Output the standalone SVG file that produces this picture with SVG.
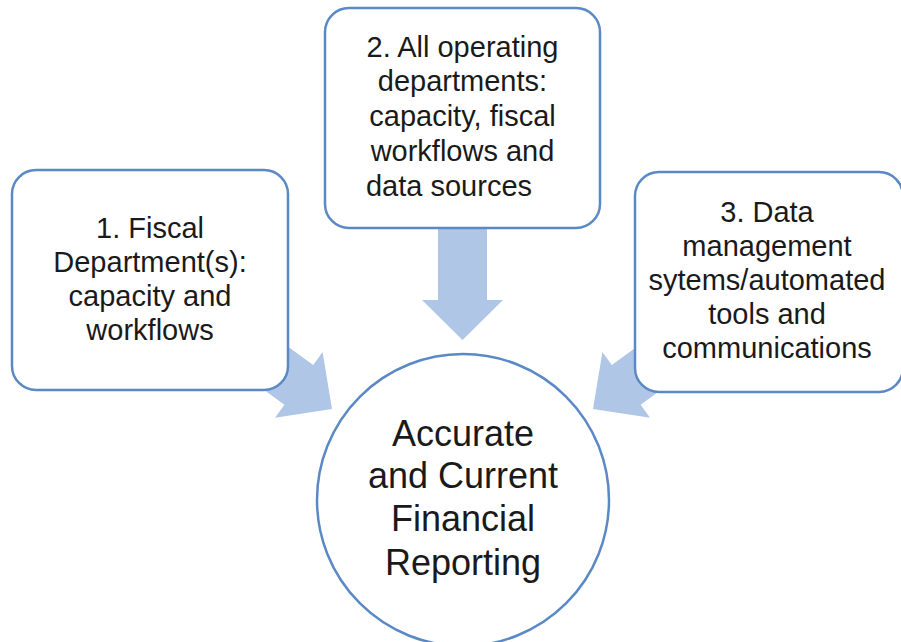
<svg xmlns="http://www.w3.org/2000/svg" width="901" height="642" viewBox="0 0 901 642">
<style>
.box{fill:#ffffff;stroke:#5a89c6;stroke-width:2.5}
.circ{fill:#ffffff;stroke:#5a89c6;stroke-width:2.5}
.arrow{fill:#afc6e6;stroke:none}
.t{font-family:"Liberation Sans",Arial,sans-serif;font-size:29px;fill:#1a1a1a;text-anchor:middle}
.tc{font-family:"Liberation Sans",Arial,sans-serif;font-size:36px;fill:#1a1a1a;text-anchor:middle}
</style>
<rect width="901" height="642" fill="#ffffff"/>
<g id="connectors">
<polygon class="arrow" points="248.5,318.1 313.2,365.1 322.6,352.1 332,409 275,417.7 284.4,404.7 219.7,357.7"/>
<polygon class="arrow" points="676.5,318.1 611.8,365.1 602.4,352.1 593,409 650,417.7 640.6,404.7 705.3,357.7"/>
<polygon class="arrow" points="438,220 487,220 487,300 503,300 462.5,340 422,300 438,300"/>
</g>
<g id="node1">
<rect class="box" x="12" y="170" width="276" height="220" rx="24" ry="24"/>
<text class="t" x="150" y="238">1. Fiscal</text>
<text class="t" x="150" y="272">Department(s):</text>
<text class="t" x="150" y="306">capacity and</text>
<text class="t" x="150" y="340">workflows</text>
</g>
<g id="node2">
<rect class="box" x="325" y="8" width="275" height="220" rx="24" ry="24"/>
<text class="t" x="462.5" y="57">2. All operating</text>
<text class="t" x="462.5" y="91">departments:</text>
<text class="t" x="462.5" y="126">capacity, fiscal</text>
<text class="t" x="462.5" y="161">workflows and</text>
<text class="t" x="449" y="196">data sources</text>
</g>
<g id="node3">
<rect class="box" x="635" y="172" width="268" height="220" rx="24" ry="24"/>
<text class="t" x="767" y="222">3. Data</text>
<text class="t" x="767" y="256">management</text>
<text class="t" x="767" y="290">sytems/automated</text>
<text class="t" x="767" y="324">tools and</text>
<text class="t" x="767" y="358">communications</text>
</g>
<g id="center">
<circle class="circ" cx="463" cy="500" r="146"/>
<text class="tc" x="463" y="446">Accurate</text>
<text class="tc" x="463" y="488">and Current</text>
<text class="tc" x="463" y="531">Financial</text>
<text class="tc" x="463" y="575">Reporting</text>
</g>
</svg>
